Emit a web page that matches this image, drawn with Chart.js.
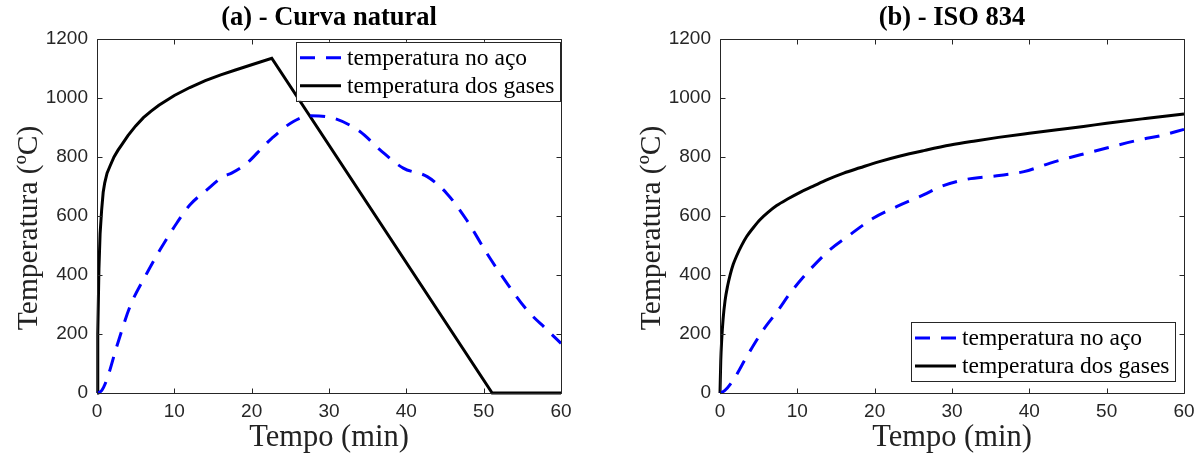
<!DOCTYPE html>
<html><head><meta charset="utf-8">
<script src="https://cdn.jsdelivr.net/npm/chart.js@4/dist/chart.umd.min.js"></script>
<style>
html,body{margin:0;padding:0;background:#fff;}
#wrap{position:relative;width:1203px;height:464px;overflow:hidden;background:#fff;}
.c{position:absolute;top:0;}
</style></head><body>
<div id="wrap">
<canvas id="ca" class="c" style="left:0px" width="600" height="464"></canvas>
<canvas id="cb" class="c" style="left:600px" width="603" height="464"></canvas>
</div>
<script>
// ---- tick labels ----
const xTicks = [0, 10, 20, 30, 40, 50, 60];
const yTicks = [0, 200, 400, 600, 800, 1000, 1200];

// ---- (a) Curva natural ----
const natGasTime = [0, 0.1, 0.25, 0.4, 0.6, 0.8, 1.0, 1.3, 1.7, 2.2, 2.7, 3.3, 4, 5, 6, 7, 8, 10, 12, 14, 16, 18, 20, 22.6, 51.1, 60];
const natGasTemp = [0, 200, 420, 540, 620, 680, 712, 745, 770, 800, 822, 845, 872, 905, 933, 955, 975, 1008, 1035, 1058, 1078, 1095, 1112, 1134, 0, 0];
const natSteelTime = [0, 0.6, 1.25, 2.55, 4.27, 6.43, 8.15, 10.3, 12, 14.2, 16.3, 17.4, 19.4, 21.5, 22.6, 25.4, 27.6, 30.6, 34, 36.6, 39.6, 42.7, 45.2, 47.8, 50.4, 53, 55.6, 58.2, 60];
const natSteelTemp = [0, 8, 44, 157, 293, 405, 485, 575, 637, 688, 733, 745, 779, 835, 863, 920, 939, 931, 886, 824, 762, 733, 677, 586, 474, 372, 281, 214, 168];

// ---- (b) ISO 834 ----
const isoGasTime = [0, 0.1, 0.22, 0.4, 0.65, 1.0, 1.29, 1.7, 2.16, 2.8, 3.45, 4.3, 5.2, 6.2, 7.33, 8.8, 10.35, 12, 13.8, 16, 18.1, 20.5, 23.3, 26.5, 29.8, 33, 36, 40, 43.6, 47, 50, 55, 60];
const isoGasTemp = [0, 110, 180, 250, 312, 365, 398, 435, 465, 500, 530, 560, 588, 612, 635, 658, 680, 700, 722, 745, 763, 783, 803, 822, 840, 854, 866, 880, 892, 903, 914, 930, 945];
const isoSteelTime = [0, 0.6, 1.72, 3.45, 5.6, 7.54, 9.06, 11.6, 14.2, 16.8, 19.8, 22.9, 26.3, 28.5, 31.9, 35.8, 39.3, 42.7, 46.6, 50, 54.3, 57, 60];
const isoSteelTemp = [0, 8, 44, 123, 214, 281, 338, 417, 485, 536, 592, 632, 671, 699, 724, 736, 750, 779, 807, 830, 858, 872, 893];

const seriesNames = ['temperatura no aço', 'temperatura dos gases'];
const titles = ['(a) - Curva natural', '(b) - ISO 834'];
const xTitle = 'Tempo (min)';
const yTitle = 'Temperatura (ºC)';

function pts(xs, ys) { return xs.map((v, i) => ({x: v, y: ys[i]})); }

const AX = '#262626';
const SERIF = '"Liberation Serif", "Times New Roman", serif';
const SANS = '"Liberation Sans", Arial, sans-serif';

const boxPlugin = {
  id: 'mbox',
  afterDatasetsDraw(chart) {
    const {ctx, chartArea: a, scales: {x, y}} = chart;
    ctx.save();
    ctx.strokeStyle = AX;
    ctx.lineWidth = 1;
    const L = Math.round(a.left) + 0.5, R = Math.round(a.right) + 0.5;
    const T = Math.round(a.top) + 0.5, B = Math.round(a.bottom) + 0.5;
    ctx.beginPath();
    ctx.rect(L, T, R - L, B - T);
    xTicks.forEach(v => {
      const p = Math.round(x.getPixelForValue(v)) + 0.5;
      ctx.moveTo(p, B); ctx.lineTo(p, B - 5);
      ctx.moveTo(p, T); ctx.lineTo(p, T + 5);
    });
    yTicks.forEach(v => {
      const p = Math.round(y.getPixelForValue(v)) + 0.5;
      ctx.moveTo(L, p); ctx.lineTo(L + 5, p);
      ctx.moveTo(R, p); ctx.lineTo(R - 5, p);
    });
    ctx.stroke();
    ctx.restore();
  }
};

const yTitlePlugin = {
  id: 'yTitleShift',
  afterDraw(chart, args, opts) {
    const {ctx, chartArea: a} = chart;
    ctx.save();
    ctx.translate(opts.x, (a.top + a.bottom) / 2 + opts.shift);
    ctx.rotate(-Math.PI / 2);
    ctx.fillStyle = '#222';
    ctx.font = '29.5px ' + SERIF;
    ctx.textAlign = 'center';
    ctx.textBaseline = 'middle';
    ctx.fillText(opts.text, 0, 0);
    ctx.restore();
  }
};

const legendPlugin = {
  id: 'boxLegend',
  afterDraw(chart, args, opts) {
    const {ctx, chartArea: a} = chart;
    const w = 264, h = 59;
    const left = a.right - opts.right - w;
    const top = opts.corner === 'top' ? a.top + opts.offset : a.bottom - opts.offset - h;
    ctx.save();
    ctx.fillStyle = '#fff';
    ctx.fillRect(left, top, w, h);
    ctx.strokeStyle = AX;
    ctx.lineWidth = 1;
    ctx.strokeRect(Math.round(left) + 0.5, Math.round(top) + 0.5, w, h);
    const rows = [top + 16, top + 44];
    chart.data.datasets.forEach((ds, i) => {
      const yy = rows[i];
      ctx.beginPath();
      ctx.strokeStyle = ds.borderColor;
      ctx.lineWidth = 3;
      ctx.setLineDash(ds.borderDash || []);
      ctx.moveTo(left + 4, yy); ctx.lineTo(left + 45, yy);
      ctx.stroke();
      ctx.setLineDash([]);
      ctx.fillStyle = '#000';
      ctx.font = '23.5px ' + SERIF;
      ctx.textBaseline = 'middle';
      ctx.textAlign = 'left';
      ctx.fillText(ds.label, left + 51, yy + 1);
    });
    ctx.restore();
  }
};

function makeChart(id, idx, steel, gas, yW, padR, yTitleX, legendOpts) {
  return new Chart(document.getElementById(id), {
    type: 'scatter',
    data: {
      datasets: [
        {label: seriesNames[0], data: steel, showLine: true, borderColor: '#0000ff', borderWidth: 3,
         borderDash: [15, 11], borderCapStyle: 'butt', pointRadius: 0, cubicInterpolationMode: 'monotone', clip: 6},
        {label: seriesNames[1], data: gas, showLine: true, borderColor: '#000000', borderWidth: 3,
         pointRadius: 0, tension: 0, clip: 6, cubicInterpolationMode: idx === 1 ? 'monotone' : 'default'}
      ]
    },
    options: {
      responsive: false,
      animation: false,
      events: [],
      layout: {padding: {left: 0, right: padR, top: 0, bottom: 0}},
      plugins: {
        legend: {display: false},
        tooltip: {enabled: false},
        title: {
          display: true, text: titles[idx], fullSize: false, color: '#000',
          font: {family: SERIF, size: 26.5, weight: 'bold', lineHeight: 1.2},
          padding: {top: 2, bottom: 5}
        },
        yTitleShift: {text: yTitle, x: yTitleX, shift: 12},
        boxLegend: legendOpts
      },
      scales: {
        x: {
          type: 'linear', min: 0, max: 60,
          afterBuildTicks: s => { s.ticks = xTicks.map(v => ({value: v})); },
          afterFit: s => { s.height = 71; },
          grid: {display: false, drawTicks: false},
          border: {display: false},
          ticks: {color: AX, padding: 7, maxRotation: 0, callback: v => String(v),
            font: {family: SANS, size: 19}},
          title: {display: true, text: xTitle, color: '#222',
            font: {family: SERIF, size: 30.5},
            padding: {top: 0, bottom: 8}}
        },
        y: {
          type: 'linear', min: 0, max: 1200,
          afterBuildTicks: s => { s.ticks = yTicks.map(v => ({value: v})); },
          afterFit: s => { s.width = yW; },
          grid: {display: false, drawTicks: false},
          border: {display: false},
          ticks: {color: AX, padding: 9, callback: v => String(v),
            font: {family: SANS, size: 19}},
          title: {display: false}
        }
      }
    },
    plugins: [boxPlugin, yTitlePlugin, legendPlugin]
  });
}

makeChart('ca', 0, pts(natSteelTime, natSteelTemp), pts(natGasTime, natGasTemp), 97, 39, 29,
  {corner: 'top', right: 1, offset: 3});
makeChart('cb', 1, pts(isoSteelTime, isoSteelTemp), pts(isoGasTime, isoGasTemp), 120, 19, 52,
  {corner: 'bottom', right: 9, offset: 12});
</script>
</body></html>
